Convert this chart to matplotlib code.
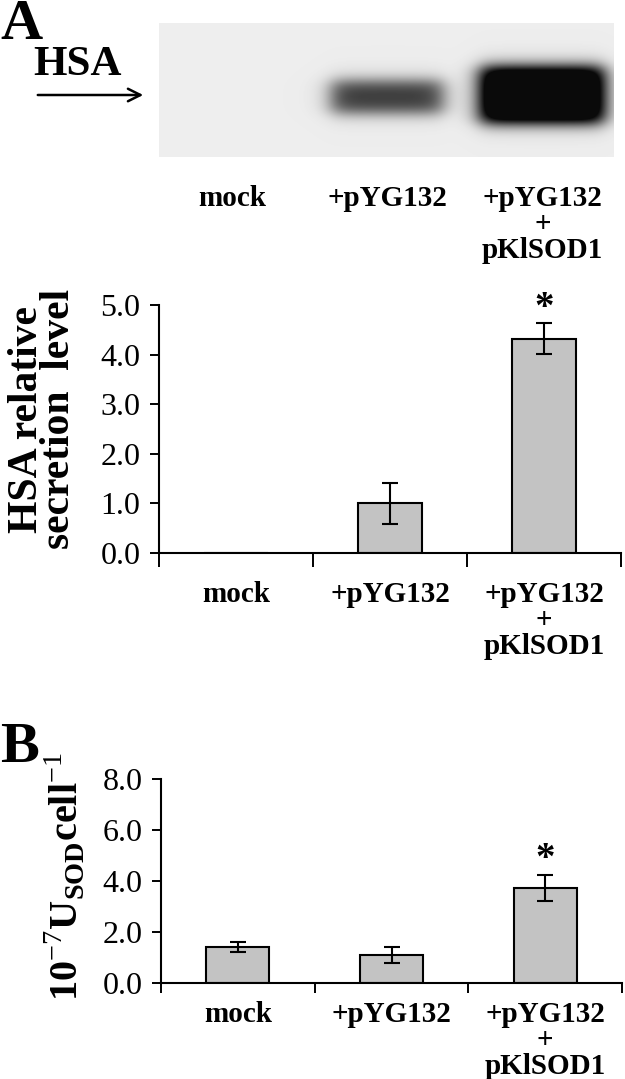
import numpy as np
import matplotlib.pyplot as plt
from matplotlib.patches import FancyArrowPatch

plt.rcParams['font.family'] = ['Liberation Serif', 'DejaVu Serif']
plt.rcParams['mathtext.fontset'] = 'custom'
plt.rcParams['mathtext.rm'] = 'Liberation Serif'
plt.rcParams['mathtext.bf'] = 'Liberation Serif:bold'

# data
groups = ['mock', '+pYG132', '+pYG132\n+\npKlSOD1']
hsa_level = [0.0, 1.0, 4.32]
hsa_err = [0.0, 0.42, 0.31]
hsa_signif = [False, False, True]
sod_level = [1.40, 1.10, 3.72]
sod_err = [0.20, 0.33, 0.52]
sod_signif = [False, False, True]
# western blot band darkness per lane (mock has none)
band_strength = [0.0, 0.72, 1.35]
band_halfwidth = [0.36, 0.36, 0.40]
band_halfheight = [16, 16, 28]
band_center = [74, 74, 72]

W, H = 625, 1079


def box(x0, y0, x1, y1):
    # pixel box (top-left origin) -> figure fraction rect
    return [x0 / W, 1 - y1 / H, (x1 - x0) / W, (y1 - y0) / H]


def bar_panel(ax, vals, errs, signif, ymax, step, xtick_len, pad):
    x = np.arange(len(vals))
    ax.bar(x, vals, width=0.41, color='#c3c3c3', edgecolor='black', linewidth=1.5, zorder=2)
    for i, (v, e) in enumerate(zip(vals, errs)):
        if e > 0:
            ax.errorbar(i, v, yerr=e, color='black', capsize=6, elinewidth=1.5,
                        capthick=1.5, zorder=3)
        if signif[i]:
            ax.annotate('*', (i, v + e), xytext=(0, 4), textcoords='offset points',
                        ha='center', va='baseline', fontsize=28, fontweight='bold')
    ax.set_xlim(-0.5, len(vals) - 0.5)
    ax.set_ylim(0, ymax)
    yt = np.arange(0, ymax + step / 2, step)
    ax.set_yticks(yt)
    ax.set_yticklabels(['%.1f' % t for t in yt])
    ax.set_xticks(x)
    ax.set_xticklabels(groups, fontweight='bold', fontsize=21, linespacing=0.95)
    ax.set_xticks(np.arange(-0.5, len(vals)), minor=True)
    ax.tick_params(axis='x', which='major', length=0, pad=pad)
    ax.tick_params(axis='x', which='minor', length=xtick_len, width=1.4, direction='out')
    ax.tick_params(axis='y', length=6.5, width=1.4, labelsize=23, pad=7)
    for s in ['top', 'right']:
        ax.spines[s].set_visible(False)
    for s in ['left', 'bottom']:
        ax.spines[s].set_linewidth(1.5)


fig = plt.figure(figsize=(W / 100, H / 100), dpi=100)

# --- blot image ---
axb = fig.add_axes(box(159, 23, 614, 157))
xs = np.linspace(-0.47, 2.46, 455)
ys = np.linspace(0, 134, 134)
X, Y = np.meshgrid(xs, ys)
img = np.full_like(X, 0.93)
for lane, s in enumerate(band_strength):
    fx = 0.5 * (np.tanh((X - lane + band_halfwidth[lane]) / 0.08)
                - np.tanh((X - lane - band_halfwidth[lane]) / 0.08))
    fy = 0.5 * (np.tanh((Y - band_center[lane] + band_halfheight[lane]) / 9)
                - np.tanh((Y - band_center[lane] - band_halfheight[lane]) / 9))
    img = img - s * fx * fy
img = np.clip(img, 0.04, 1)
axb.imshow(img, cmap='gray', vmin=0, vmax=1, extent=(-0.47, 2.46, 134, 0),
           aspect='auto', interpolation='bilinear')
axb.set_xlim(-0.47, 2.46)
axb.set_xticks(range(len(groups)))
axb.set_xticklabels(groups, fontweight='bold', fontsize=21, linespacing=0.95)
axb.tick_params(axis='x', length=0, pad=20)
axb.set_yticks([])
for s in axb.spines.values():
    s.set_visible(False)

fig.text(0, 1 - 39 / H, 'A', fontsize=42, fontweight='bold', va='baseline')
fig.text(33 / W, 1 - 75 / H, 'HSA', fontsize=31, fontweight='bold', va='baseline')
fig.add_artist(FancyArrowPatch((35 / W, 1 - 95 / H), (146 / W, 1 - 95 / H),
                               transform=fig.transFigure, arrowstyle='->,head_length=9,head_width=4.5',
                               color='black', linewidth=1.8))

# --- panel A chart ---
ax1 = fig.add_axes(box(159, 305, 621, 553))
bar_panel(ax1, hsa_level, hsa_err, hsa_signif, 5.0, 1.0, 10, 20)
ax1.set_ylabel('HSA relative\nsecretion  level', fontsize=30, fontweight='bold', linespacing=0.8)
ax1.yaxis.set_label_coords(-0.175, 0.54)

# --- panel B chart ---
fig.text(0, 1 - 762 / H, 'B', fontsize=42, fontweight='bold', va='baseline')
ax2 = fig.add_axes(box(161, 779, 622, 983))
bar_panel(ax2, sod_level, sod_err, sod_signif, 8.0, 2.0, 7, 13)
ax2.set_ylabel(r'$\mathbf{10}^{-7}\mathbf{U}_{\mathbf{SOD}}\mathbf{cell}^{-1}$', fontsize=29)
ax2.yaxis.set_label_coords(-0.16, 0.52)

fig.savefig('out.png', dpi=100)
